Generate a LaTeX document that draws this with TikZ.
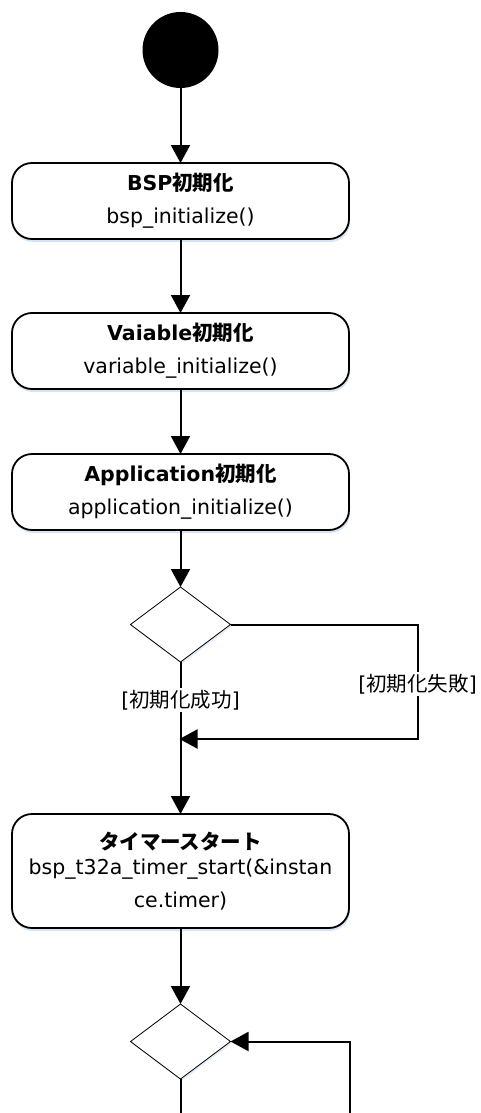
\documentclass[tikz,border=0pt]{standalone}
\usepackage{fontspec}
\setmainfont{DejaVu Sans}
\newfontfamily\jpfont{Noto Sans CJK JP}
\newcommand{\ja}[1]{{\jpfont #1}}
\usepackage{tikz}
\usetikzlibrary{positioning, shapes.geometric, arrows.meta, shadows}
\definecolor{glow}{RGB}{196,218,240}
\tikzset{
    initial/.style={circle, fill=black, minimum size=76pt, inner sep=0pt, outer sep=0pt},
    action/.style={draw, line width=1.8pt, rounded corners=20pt, fill=white, align=center,
        minimum width=337pt, minimum height=76pt, inner sep=2pt, outer sep=0pt,
        font=\fontsize{20.5}{25}\selectfont,
        drop shadow={shadow xshift=1pt, shadow yshift=-3pt, fill=glow, opacity=0.7}},
    decision/.style={draw, diamond, line width=0.8pt, fill=white, minimum width=100pt,
        minimum height=75pt, inner sep=0pt, outer sep=0pt,
        drop shadow={shadow xshift=1pt, shadow yshift=-2pt, fill=glow, opacity=0.5}},
    link/.style = {line width=2pt},
    flow/.style = {link, -{Triangle[width=19pt, length=18pt]}},
    guard/.style = {fill=white, inner sep=2pt, font=\fontsize{20.5}{25}\selectfont} }

\begin{document}
\begin{tikzpicture}[x=1pt, y=1pt, node distance=75pt]
			\useasboundingbox (0,0) rectangle (481,-1113);
			\node[initial] (start) at (180.5,-50) {};
			\node[action, below = of start] (bsp) {\textbf{BSP\ja{初期化}}\\[8pt] bsp\_initialize()};
			\node[action, below = 74pt of bsp] (var) {\textbf{Vaiable\ja{初期化}}\\[8pt] variable\_initialize()};
			\node[action, below = 65pt of var] (app) {\textbf{Application\ja{初期化}}\\[8pt] application\_initialize()};
			\node[decision, below = 57pt of app] (check) {};
			\node[action, minimum height=114pt, below = 152pt of check] (timer)
				{\textbf{\ja{タイマースタート}}\\ bsp\_t32a\_timer\_start(\&instan\\[8pt] ce.timer)};
			\node[decision, below = 76pt of timer] (wait) {};
			\coordinate[below = 77pt of check] (merge);
			\coordinate[right = 187pt of check] (failturn);
			\coordinate[below = 36pt of wait] (exit);
			\coordinate[right = 169pt of exit] (loopin);
			% ----
			\draw[flow] (start) -- (bsp);
			\draw[flow] (bsp) -- (var);
			\draw[flow] (var) -- (app);
			\draw[flow] (app) -- (check);
			\draw[flow] (check) -- node[guard, pos=0.25] {[\ja{初期化成功}]} (timer);
			\draw[flow, shorten >=-1pt] (check) -- (failturn) |- node[guard, pos=0.26] {[\ja{初期化失敗}]} (merge);
			% ----
			\draw[flow] (timer) -- (wait);
			\draw[link] (wait) -- (exit);
			\draw[flow] (loopin) |- (wait);
		\end{tikzpicture}
\end{document}
